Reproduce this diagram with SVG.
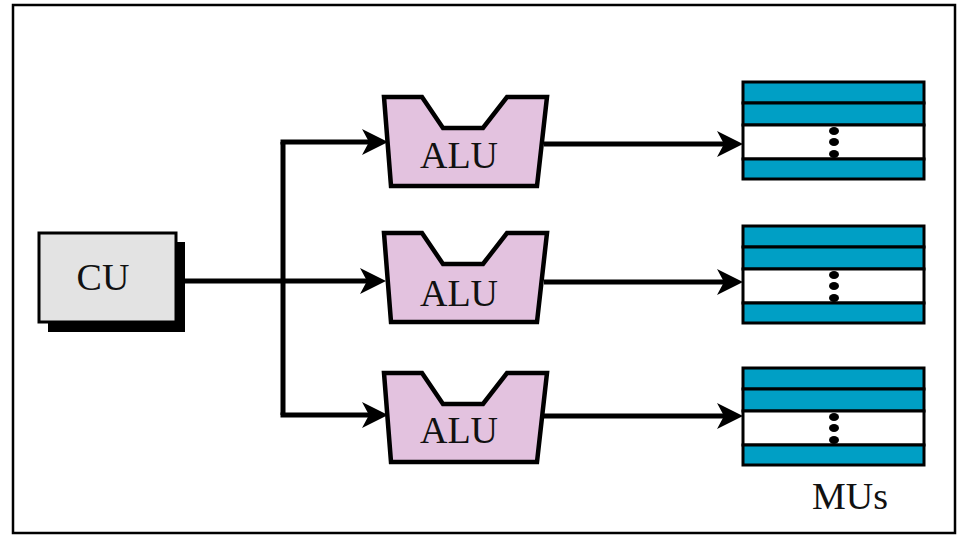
<svg xmlns="http://www.w3.org/2000/svg" xmlns:xlink="http://www.w3.org/1999/xlink" width="957" height="535" viewBox="0 0 957 535">
<style>
.txt{font-family:"Liberation Serif","Times New Roman",serif;font-size:38px;fill:#111;text-anchor:middle}
.alu{fill:#e3c2df;stroke:#000;stroke-width:4.5;stroke-linejoin:miter}
.blue{fill:#009fc5;stroke:#000;stroke-width:3}
.white{fill:#fff;stroke:#000;stroke-width:3}
.wire{fill:none;stroke:#000;stroke-width:5}
</style>
<defs>
<marker id="ah" viewBox="0 0 26 26" refX="18" refY="13" markerWidth="26" markerHeight="26" markerUnits="userSpaceOnUse" orient="auto">
<path d="M0,0 L26,13 L0,26 L7,13 Z" fill="#000"/>
</marker>
<path id="aluShape" d="M0,0 L38,0 L59,31 L99,31 L123,0 L163,0 L153,89 L7,89 Z"/>
<g id="muShape">
<rect x="0" y="0" width="181" height="21" class="blue"/>
<rect x="0" y="21" width="181" height="22" class="blue"/>
<rect x="0" y="43" width="181" height="34" class="white"/>
<rect x="0" y="77" width="181" height="20" class="blue"/>
<ellipse cx="91" cy="49" rx="5" ry="4" fill="#000"/>
<ellipse cx="91" cy="60" rx="5" ry="4" fill="#000"/>
<ellipse cx="91" cy="72" rx="5" ry="4" fill="#000"/>
</g>
</defs>
<rect x="0" y="0" width="957" height="535" fill="#fff"/>
<rect id="frame" x="13" y="5" width="942" height="528" fill="#fff" stroke="#000" stroke-width="2.5"/>

<g id="connectors">
<path class="wire" d="M176,281 H378" marker-end="url(#ah)"/>
<path class="wire" d="M283,142 V415"/>
<path class="wire" d="M280.5,142 H380" marker-end="url(#ah)"/>
<path class="wire" d="M280.5,415 H380" marker-end="url(#ah)"/>
<path class="wire" d="M544,144 H735" marker-end="url(#ah)"/>
<path class="wire" d="M544,282 H735" marker-end="url(#ah)"/>
<path class="wire" d="M544,416 H735" marker-end="url(#ah)"/>
</g>

<g id="cu">
<rect x="48" y="242" width="137" height="90" fill="#000"/>
<rect x="39" y="233" width="137" height="89" fill="#e3e3e3" stroke="#000" stroke-width="3"/>
<text class="txt" x="103" y="290">CU</text>
</g>

<g id="alu1" transform="translate(384,97)">
<use xlink:href="#aluShape" class="alu"/>
<text class="txt" x="75" y="71">ALU</text>
</g>
<g id="alu2" transform="translate(384,233)">
<use xlink:href="#aluShape" class="alu"/>
<text class="txt" x="75" y="73">ALU</text>
</g>
<g id="alu3" transform="translate(384,373)">
<use xlink:href="#aluShape" class="alu"/>
<text class="txt" x="75" y="70">ALU</text>
</g>

<g id="mu1" transform="translate(743,82)"><use xlink:href="#muShape"/></g>
<g id="mu2" transform="translate(743,226)"><use xlink:href="#muShape"/></g>
<g id="mu3" transform="translate(743,368)"><use xlink:href="#muShape"/></g>

<text id="mus" class="txt" x="850" y="509">MUs</text>
</svg>
